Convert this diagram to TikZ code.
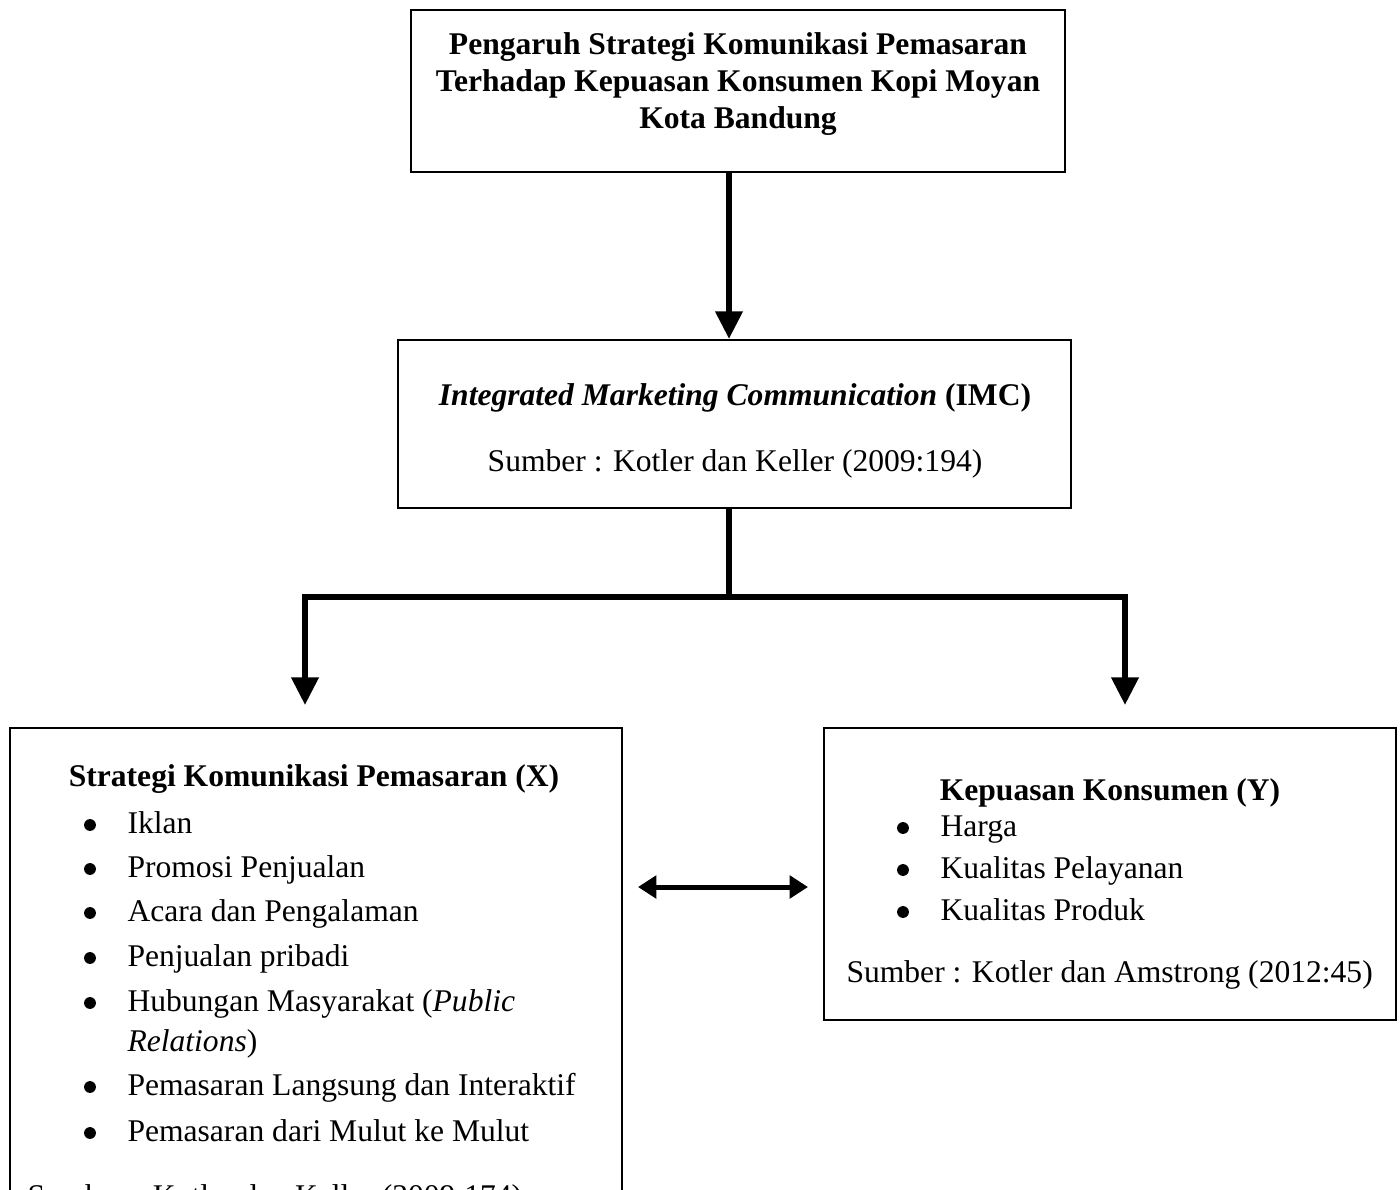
\documentclass[tikz,border=0pt]{standalone}
\usepackage{fontspec}
\setmainfont{Liberation Serif}
\usetikzlibrary{arrows.meta}

\begin{document}
\begin{tikzpicture}[x=0.38pt,y=-0.38pt,
  kotak/.style={draw,line width=0.8pt,inner sep=0pt},
  teks/.style={inner sep=0pt,font=\fontsize{12}{14}\selectfont},
  titik/.style={circle,fill,inner sep=0pt,minimum size=4.5pt},
  panah/.style={line width=2.3pt,line join=miter,-{Triangle[width=10pt,length=10.5pt]}},
  panahdua/.style={line width=1.9pt,{Triangle[width=8.5pt,length=7pt]}-{Triangle[width=8.5pt,length=7pt]}},
]
\clip (0,0) rectangle (1400,1189);
\def\bxX{90}   % bullet, kotak X
\def\txX{127}  % teks, kotak X
\def\bxY{903}  % bullet, kotak Y
\def\txY{940}  % teks, kotak Y

% kotak
\node[kotak,minimum width=654*0.38pt,minimum height=162*0.38pt] (judul) at (738,91) {};
\node[kotak,minimum width=673*0.38pt,minimum height=168*0.38pt] (imc) at (734.5,424) {};
\node[kotak,minimum width=612*0.38pt,minimum height=540*0.38pt] (varX) at (316,998) {};
\node[kotak,minimum width=572*0.38pt,minimum height=292*0.38pt] (varY) at (1110,874) {};

% judul
\node[teks,anchor=base] (j1) at (738,54) {\bfseries Pengaruh Strategi Komunikasi Pemasaran};
\node[teks,anchor=base] (j2) at (738,91) {\bfseries Terhadap Kepuasan Konsumen Kopi Moyan};
\node[teks,anchor=base] (j3) at (738,128) {\bfseries Kota Bandung};

% IMC
\node[teks,anchor=base] (imc1) at (735,405) {\textit{\bfseries Integrated Marketing Communication} \textbf{(IMC)}};
\node[teks,anchor=base] (imc2) at (735,471) {Sumber : Kotler dan Keller (2009:194)};

% variabel X
\node[teks,anchor=base] (x0) at (314,786) {\bfseries Strategi Komunikasi Pemasaran (X)};
\node[titik] (b1) at (\bxX,825) {};
\node[teks,anchor=base west] (x1) at (\txX,833) {Iklan};
\node[titik] (b2) at (\bxX,869) {};
\node[teks,anchor=base west] (x2) at (\txX,877) {Promosi Penjualan};
\node[titik] (b3) at (\bxX,913) {};
\node[teks,anchor=base west] (x3) at (\txX,921) {Acara dan Pengalaman};
\node[titik] (b4) at (\bxX,958) {};
\node[teks,anchor=base west] (x4) at (\txX,966) {Penjualan pribadi};
\node[titik] (b5) at (\bxX,1003) {};
\node[teks,anchor=base west] (x5) at (\txX,1011) {Hubungan Masyarakat (\textit{Public}};
\node[teks,anchor=base west] (x5b) at (\txX,1051) {\textit{Relations})};
\node[titik] (b6) at (\bxX,1087) {};
\node[teks,anchor=base west] (x6) at (\txX,1095) {Pemasaran Langsung dan Interaktif};
\node[titik] (b7) at (\bxX,1133) {};
\node[teks,anchor=base west] (x7) at (\txX,1141) {Pemasaran dari Mulut ke Mulut};
\node[teks,anchor=base west] (xs) at (27,1206) {Sumber : Kotler dan Keller (2009:174)};

% variabel Y
\node[teks,anchor=base] (y0) at (1110,800) {\bfseries Kepuasan Konsumen (Y)};
\node[titik] (c1) at (\bxY,828) {};
\node[teks,anchor=base west] (y1) at (\txY,836) {Harga};
\node[titik] (c2) at (\bxY,870) {};
\node[teks,anchor=base west] (y2) at (\txY,878) {Kualitas Pelayanan};
\node[titik] (c3) at (\bxY,912) {};
\node[teks,anchor=base west] (y3) at (\txY,920) {Kualitas Produk};
\node[teks,anchor=base west] (ys) at (846,982) {Sumber : Kotler dan Amstrong (2012:45)};

% penghubung
\coordinate (cabang) at (729,597);
\coordinate (ujungX) at (305,705);
\coordinate (ujungY) at (1125,705);
\draw[panah] (judul.south -| cabang) -- (imc.north -| cabang);
\draw[line width=2.3pt] (imc.south -| cabang) -- (cabang);
\draw[panah] ([xshift=1.15pt]cabang) -| (ujungX);
\draw[panah] ([xshift=-1.15pt]cabang) -| (ujungY);
\coordinate (kiri) at (638,887);
\coordinate (kanan) at (808,887);
\draw[panahdua] (kiri) -- (kanan);
\end{tikzpicture}
\end{document}
